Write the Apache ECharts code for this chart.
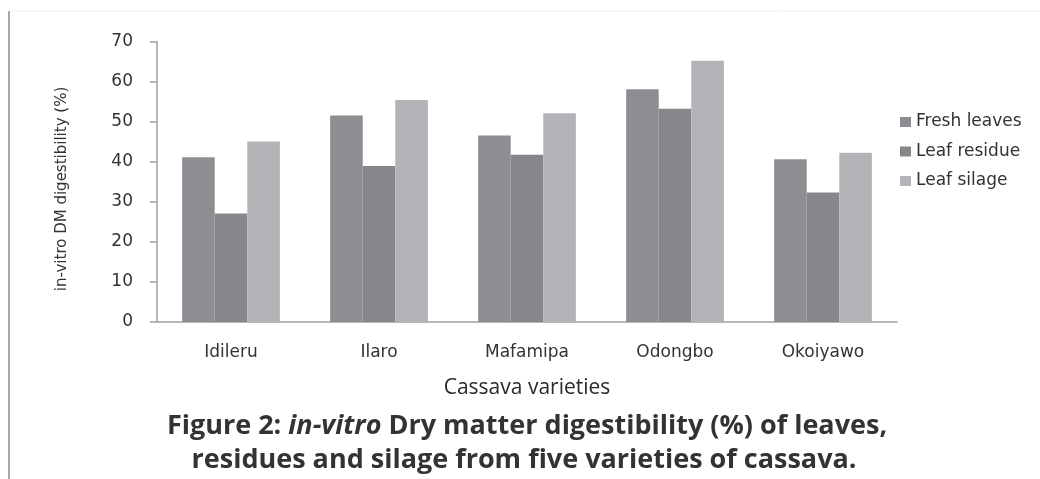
<!DOCTYPE html>
<html><head><meta charset="utf-8">
<script src="https://cdn.jsdelivr.net/npm/echarts@6/dist/echarts.min.js"></script>
<style>html,body{margin:0;padding:0;background:#fff}#c{width:1040px;height:479px}</style>
</head><body><div id="c"></div>
<script>
const categories = ['Idileru','Ilaro','Mafamipa','Odongbo','Okoiyawo'];
const freshLeaves = [41.2, 51.6, 46.6, 58.2, 40.7];
const leafResidue = [27.1, 39.0, 41.8, 53.3, 32.4];
const leafSilage = [45.1, 55.5, 52.2, 65.3, 42.3];
const yTicks = {min: 0, max: 70, interval: 10};
const yAxisTitle = 'in-vitro DM digestibility (%)';

const chart = echarts.init(document.getElementById('c'), null, {renderer: 'canvas'});
const tickFont = '"DejaVu Sans", sans-serif';
const capFont = '"Open Sans", sans-serif';
chart.setOption({
  animation: false,
  backgroundColor: '#fff',
  grid: {left: 157, right: 143, top: 42, bottom: 157, containLabel: false},
  legend: {
    orient: 'vertical', left: 895, top: 108, itemWidth: 11, itemHeight: 10, itemGap: 11.5,
    icon: 'rect',
    textStyle: {fontFamily: tickFont, fontSize: 17, lineHeight: 18, color: '#333'},
    data: ['Fresh leaves','Leaf residue','Leaf silage']
  },
  xAxis: {
    type: 'category', data: categories,
    axisLine: {show: true, lineStyle: {color: '#a0a0a0', width: 1.5}},
    axisTick: {show: false},
    axisLabel: {fontFamily: tickFont, fontSize: 17, color: '#333', margin: 22},
    name: 'Cassava varieties', nameLocation: 'middle', nameGap: 56,
    nameTextStyle: {fontFamily: capFont, fontSize: 21, color: '#2a2a2a'}
  },
  yAxis: {
    type: 'value', min: yTicks.min, max: yTicks.max, interval: yTicks.interval,
    axisLine: {show: true, lineStyle: {color: '#a0a0a0', width: 1.5}},
    axisTick: {show: true, length: 7, lineStyle: {color: '#a0a0a0', width: 1.5}},
    splitLine: {show: false},
    axisLabel: {fontFamily: tickFont, fontSize: 17, color: '#333', margin: 24}
  },
  series: [
    {name: 'Fresh leaves', type: 'bar', data: freshLeaves, barGap: '0%', barCategoryGap: '34%', itemStyle: {color: '#8d8e92'}},
    {name: 'Leaf residue', type: 'bar', data: leafResidue, barGap: '0%', barCategoryGap: '34%', itemStyle: {color: '#86878b'}},
    {name: 'Leaf silage', type: 'bar', data: leafSilage, barGap: '0%', barCategoryGap: '34%', itemStyle: {color: '#b2b3b7'}}
  ],
  graphic: [
    {type: 'line', shape: {x1: 9, y1: 11, x2: 9, y2: 479}, style: {stroke: '#a8a8a8', lineWidth: 2}},
    {type: 'line', shape: {x1: 9, y1: 11, x2: 1040, y2: 11}, style: {stroke: '#ececec', lineWidth: 1}},
    {type: 'text', x: 62, y: 189, rotation: Math.PI / 2, style: {
      text: yAxisTitle, font: '15px ' + tickFont, fill: '#333', align: 'center', verticalAlign: 'middle'
    }},
    {type: 'text', x: 527, y: 426, style: {
      rich: {
        b: {fontFamily: capFont, fontWeight: 'bold', fontSize: 27, fill: '#333'},
        i: {fontFamily: capFont, fontWeight: 'bold', fontStyle: 'italic', fontSize: 27, fill: '#333'}
      },
      text: '{b|Figure 2: }{i|in-vitro}{b| Dry matter digestibility (%) of leaves,}',
      align: 'center', verticalAlign: 'middle'
    }},
    {type: 'text', x: 524, y: 460, style: {
      text: 'residues and silage from five varieties of cassava.',
      font: 'bold 27px ' + capFont, fill: '#333', align: 'center', verticalAlign: 'middle'
    }}
  ]
});
</script></body></html>
